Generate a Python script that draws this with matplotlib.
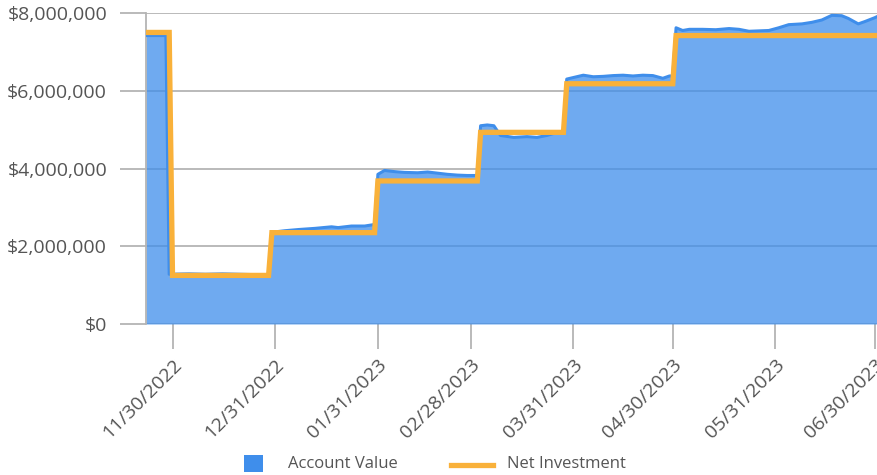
import matplotlib
matplotlib.use("Agg")
import matplotlib.pyplot as plt
from matplotlib.patches import Rectangle
from matplotlib.lines import Line2D
import pandas as pd

plt.rcParams['font.family'] = ['Open Sans', 'DejaVu Sans']

# Account value (date, value)
acct_dates = ["2022-11-22", "2022-11-25", "2022-11-28", "2022-11-29", "2022-12-05", "2022-12-10",
              "2022-12-15", "2022-12-20", "2022-12-25", "2022-12-29", "2022-12-30", "2023-01-03",
              "2023-01-07", "2023-01-12", "2023-01-17", "2023-01-19", "2023-01-23", "2023-01-27",
              "2023-01-30", "2023-01-31", "2023-02-02", "2023-02-05", "2023-02-08", "2023-02-12",
              "2023-02-15", "2023-02-18", "2023-02-21", "2023-02-24", "2023-02-27", "2023-03-02",
              "2023-03-03", "2023-03-05", "2023-03-07", "2023-03-09", "2023-03-13", "2023-03-17",
              "2023-03-20", "2023-03-23", "2023-03-25", "2023-03-28", "2023-03-29", "2023-04-01",
              "2023-04-03", "2023-04-06", "2023-04-09", "2023-04-12", "2023-04-15", "2023-04-18",
              "2023-04-21", "2023-04-24", "2023-04-27", "2023-04-29", "2023-04-30", "2023-05-01",
              "2023-05-03", "2023-05-05", "2023-05-09", "2023-05-13", "2023-05-17", "2023-05-20",
              "2023-05-23", "2023-05-26", "2023-05-29", "2023-06-01", "2023-06-04", "2023-06-08",
              "2023-06-11", "2023-06-14", "2023-06-17", "2023-06-20", "2023-06-22", "2023-06-25",
              "2023-06-27", "2023-06-30", "2023-07-01"]
acct_values = [7420000, 7420000, 7420000, 1280000, 1290000, 1280000,
               1290000, 1280000, 1270000, 1270000, 2360000, 2400000,
               2430000, 2460000, 2500000, 2480000, 2520000, 2520000,
               2560000, 3850000, 3950000, 3920000, 3900000, 3890000,
               3910000, 3880000, 3850000, 3830000, 3820000, 3820000,
               5100000, 5120000, 5100000, 4850000, 4800000, 4820000,
               4800000, 4850000, 4900000, 4920000, 6300000, 6360000,
               6400000, 6360000, 6370000, 6390000, 6400000, 6380000,
               6400000, 6390000, 6320000, 6380000, 6380000, 7620000,
               7550000, 7580000, 7580000, 7570000, 7600000, 7580000,
               7530000, 7540000, 7550000, 7620000, 7700000, 7720000,
               7760000, 7820000, 7940000, 7930000, 7860000, 7720000,
               7780000, 7880000, 7920000]

# Net investment (step series)
net_dates = ["2022-11-22", "2022-11-29", "2022-11-30", "2022-12-29", "2022-12-30", "2023-01-30",
             "2023-01-31", "2023-03-02", "2023-03-03", "2023-03-28", "2023-03-29", "2023-04-30",
             "2023-05-01", "2023-07-01"]
net_values = [7500000, 7500000, 1250000, 1250000, 2350000, 2350000,
              3680000, 3680000, 4930000, 4930000, 6180000, 6180000,
              7420000, 7420000]

tick_dates = ["2022-11-30", "2022-12-31", "2023-01-31", "2023-02-28",
              "2023-03-31", "2023-04-30", "2023-05-31", "2023-06-30"]
tick_labels = ["11/30/2022", "12/31/2022", "01/31/2023", "02/28/2023",
               "03/31/2023", "04/30/2023", "05/31/2023", "06/30/2023"]
y_ticks = [0, 2000000, 4000000, 6000000, 8000000]
y_labels = ["$0", "$2,000,000", "$4,000,000", "$6,000,000", "$8,000,000"]
legend_labels = ["Account Value", "Net Investment"]

ad = pd.to_datetime(acct_dates)
nd = pd.to_datetime(net_dates)

W, H = 877, 475
fig = plt.figure(figsize=(W / 100, H / 100), dpi=100)
ax = fig.add_axes([146 / W, 1 - 324 / H, (876.5 - 146) / W, (324 - 13) / H])

blue = "#3f8eeb"
orange = "#f9b13a"
grid = "#b4b4b4"
text_c = "#555555"

ax.fill_between(ad, acct_values, 0, color=blue, alpha=0.75, linewidth=0, zorder=2)
ax.plot(ad, acct_values, color=blue, linewidth=2.2, zorder=3)
ax.plot(nd, net_values, color=orange, linewidth=3.8, zorder=4, solid_joinstyle='miter')

ax.set_xlim(pd.Timestamp("2022-11-22"), pd.Timestamp("2023-06-30 12:00"))
ax.set_ylim(0, 8000000)

ax.set_yticks(y_ticks)
ax.set_yticklabels(y_labels)
ax.set_xticks(pd.to_datetime(tick_dates))
ax.set_xticklabels(tick_labels, rotation=45, ha='right', va='top', rotation_mode='anchor')

ax.yaxis.grid(True, color=grid, linewidth=1.3, zorder=0)
ax.set_axisbelow(True)
ax.tick_params(axis='y', length=19, width=1.3, color=grid, pad=9, labelsize=14, labelcolor=text_c)
ax.tick_params(axis='x', length=18, width=1.3, color=grid, pad=5, labelsize=14, labelcolor=text_c)

for s in ['top', 'right', 'bottom']:
    ax.spines[s].set_visible(False)
ax.spines['left'].set_color(grid)
ax.spines['left'].set_linewidth(1.3)

# manual legend in figure pixel coordinates
def fx(px):
    return px / W

def fy(py):
    return 1 - py / H

fig.patches.append(Rectangle((fx(244), fy(472)), 19 / W, 17 / H, transform=fig.transFigure,
                             facecolor=blue, edgecolor='none'))
fig.text(fx(288), fy(464), legend_labels[0], fontsize=12, color=text_c, va='center', ha='left')
fig.lines.append(Line2D([fx(451), fx(493)], [fy(465), fy(465)], transform=fig.transFigure,
                        color=orange, linewidth=3.8))
fig.text(fx(507), fy(464), legend_labels[1], fontsize=12, color=text_c, va='center', ha='left')

fig.savefig("out.png", dpi=100)
